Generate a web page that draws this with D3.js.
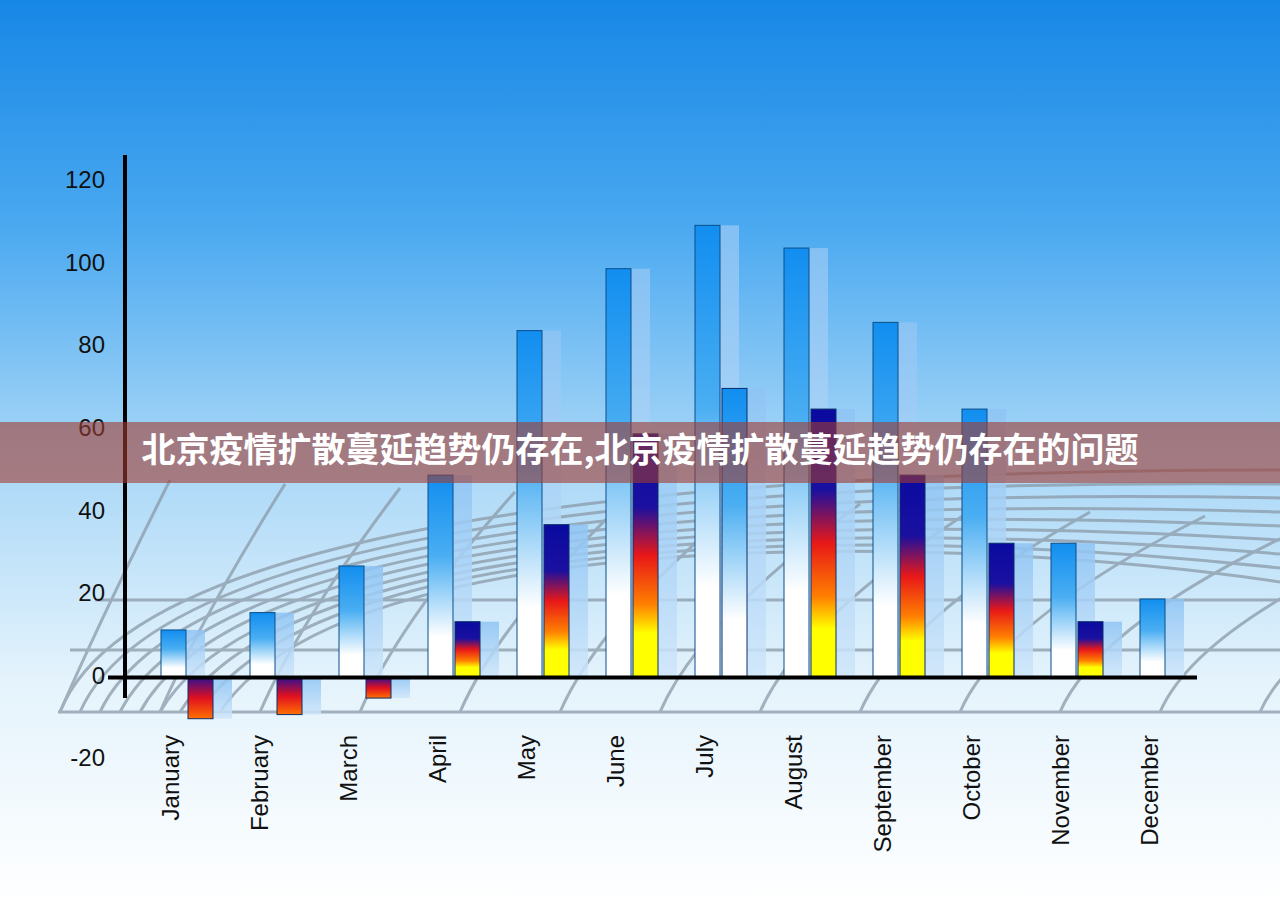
<!DOCTYPE html>
<html><head><meta charset="utf-8">
<script src="https://cdn.jsdelivr.net/npm/d3@7"></script>
<style>body{margin:0;overflow:hidden}</style>
</head><body>
<script>
const months=["January","February","March","April","May","June","July","August","September","October","November","December"];
const seriesA=[11.5,15.7,27,49,84,99,109.5,104,86,65,32.5,19];
const seriesB=[-10,-9,-5,13.5,37,59,70,65,49,32.5,13.5,null];
const bTypes=["warm","warm","warm","warm","warm","warm","cool","warm","warm","warm","warm",null];
const yTicks=[-20,0,20,40,60,80,100,120];
const title="北京疫情扩散蔓延趋势仍存在,北京疫情扩散蔓延趋势仍存在的问题";

const W=1280,H=905;
const svg=d3.select("body").append("svg").attr("width",W).attr("height",H);
const defs=svg.append("defs");
const bg=defs.append("linearGradient").attr("id","bg").attr("x1",0).attr("y1",0).attr("x2",0).attr("y2",1);
[[0,"#1787e6"],[0.25,"#4aa9f0"],[0.5,"#a6d6f7"],[0.75,"#e4f3fc"],[1,"#ffffff"]].forEach(s=>bg.append("stop").attr("offset",s[0]).attr("stop-color",s[1]));
const ga=defs.append("linearGradient").attr("id","ga").attr("x1",0).attr("y1",0).attr("x2",0).attr("y2",1);
[[0,"#118ef0"],[0.4,"#4aaef2"],[0.8,"#ffffff"],[1,"#ffffff"]].forEach(s=>ga.append("stop").attr("offset",s[0]).attr("stop-color",s[1]));
const gb=defs.append("linearGradient").attr("id","gb").attr("x1",0).attr("y1",0).attr("x2",0).attr("y2",1);
[[0,"#0a0aa0"],[0.3,"#1a10a0"],[0.5,"#e81818"],[0.7,"#ff8000"],[0.82,"#ffff00"],[1,"#ffff00"]].forEach(s=>gb.append("stop").attr("offset",s[0]).attr("stop-color",s[1]));
const gn=defs.append("linearGradient").attr("id","gn").attr("x1",0).attr("y1",0).attr("x2",0).attr("y2",1);
[[0,"#301090"],[0.5,"#e01020"],[1,"#ff7000"]].forEach(s=>gn.append("stop").attr("offset",s[0]).attr("stop-color",s[1]));
const gs=defs.append("linearGradient").attr("id","gs").attr("x1",0).attr("y1",0).attr("x2",0).attr("y2",1);
[[0,"#8ec4f4"],[1,"#cfe6fa"]].forEach(s=>gs.append("stop").attr("offset",s[0]).attr("stop-color",s[1]));

svg.append("rect").attr("width",W).attr("height",H).attr("fill","url(#bg)");

const y=d3.scaleLinear().domain([-20,120]).range([760,182]);
const x=d3.scaleBand().domain(months).range([128,1196]).padding(0);

const grid=svg.append("g").attr("fill","none").attr("stroke","#8a9aa8").attr("stroke-width",3).attr("opacity",0.75);
for(let i=0;i<9;i++){
  const r=i*95;
  grid.append("path").attr("d",`M${60+i*20},${712} C${120+r*0.3},${560-i*5} ${500+r*0.6},${470+i*8} ${1280},${470+i*14}`);
}
for(let i=0;i<13;i++){
  const x0=60+i*100;
  grid.append("path").attr("d",`M${x0},712 Q${x0+40},${620} ${x0+110+i*15},${480+i*4}`);
}
grid.append("path").attr("d","M58,712 L1280,712");
grid.append("path").attr("d","M70,650 L1280,650");
grid.append("path").attr("d","M95,600 L1280,600");

const g=svg.append("g");
months.forEach((m,i)=>{
  const bx=x(m);
  const a=seriesA[i];
  g.append("rect").attr("x",bx+55).attr("y",y(a)).attr("width",22).attr("height",y(0)-y(a)).attr("fill","url(#gs)").attr("opacity",0.85);
  g.append("rect").attr("x",bx+33).attr("y",y(a)).attr("width",25).attr("height",y(0)-y(a)).attr("fill","url(#ga)").attr("stroke","#0b4f8a").attr("stroke-width",1);
  const b=seriesB[i];
  if(b!=null){
    const top=Math.min(y(b),y(0)),h=Math.abs(y(b)-y(0));
    g.append("rect").attr("x",bx+82).attr("y",top).attr("width",22).attr("height",h).attr("fill","url(#gs)").attr("opacity",0.85);
    const fill=b<0?"url(#gn)":(bTypes[i]==="cool"?"url(#ga)":"url(#gb)");
    g.append("rect").attr("x",bx+60).attr("y",top).attr("width",25).attr("height",h).attr("fill",fill).attr("stroke","#0b2f6a").attr("stroke-width",1);
  }
  svg.append("text").attr("transform",`translate(${bx+45},735) rotate(-90)`).attr("text-anchor","end").attr("dominant-baseline","middle")
    .attr("font-family","Liberation Sans, Arial").attr("font-size",24).attr("fill","#111").text(m);
});

svg.append("line").attr("x1",108).attr("x2",1197).attr("y1",y(0)).attr("y2",y(0)).attr("stroke","#000").attr("stroke-width",4);
svg.append("line").attr("x1",125).attr("x2",125).attr("y1",155).attr("y2",698).attr("stroke","#000").attr("stroke-width",4);
yTicks.forEach(t=>svg.append("text").attr("x",105).attr("y",y(t)).attr("text-anchor","end").attr("dominant-baseline","middle")
  .attr("font-family","Liberation Sans, Arial").attr("font-size",24).attr("fill","#111").text(t));

svg.append("rect").attr("x",0).attr("y",422).attr("width",W).attr("height",61).attr("fill","rgba(160,60,50,0.6)");
svg.append("text").attr("x",640).attr("y",453).attr("text-anchor","middle").attr("dominant-baseline","middle")
  .attr("font-family","Noto Sans CJK SC").attr("font-weight","bold").attr("font-size",34).attr("fill","#fff").text(title);
</script>
</body></html>
